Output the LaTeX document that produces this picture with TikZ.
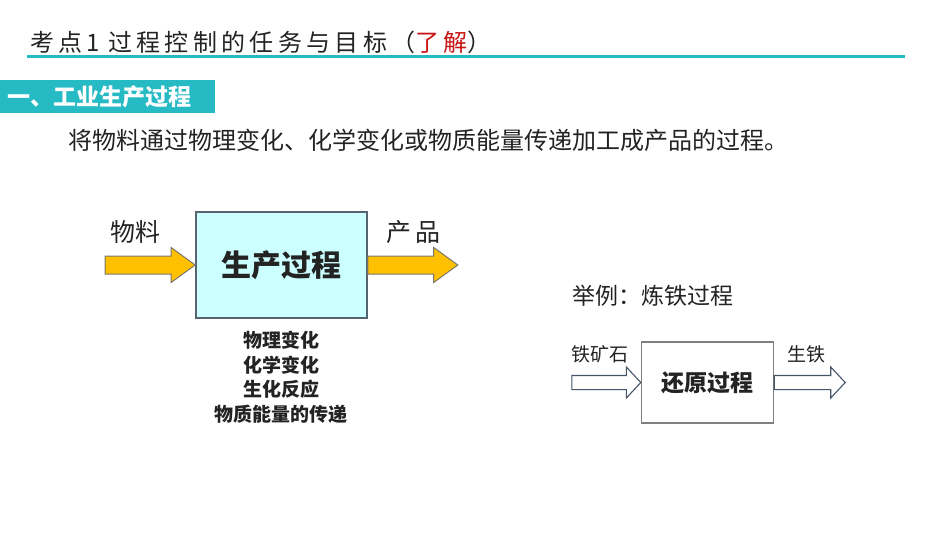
\documentclass[tikz,border=0pt]{standalone}
\usepackage{fontspec}
\setmainfont{Noto Sans CJK SC}
\newfontfamily\titlefont[LetterSpace=18]{Noto Sans CJK SC}
\usepackage{tikz}
\usetikzlibrary{positioning}
\usetikzlibrary{shapes.arrows}

\definecolor{lineteal}{RGB}{38,186,196}
\definecolor{inkgray}{RGB}{35,35,35}
\definecolor{markred}{RGB}{200,20,20}
\definecolor{boxcyan}{RGB}{204,255,255}
\definecolor{boxedge}{RGB}{85,100,110}
\definecolor{arrowyellow}{RGB}{255,192,0}
\definecolor{arrowedge}{RGB}{120,120,110}
\definecolor{hollowedge}{RGB}{70,85,105}
\newcommand{\pxfont}[1]{\fontsize{#1}{#1}\selectfont}

\tikzset{
  bigarrow/.style={single arrow, fill=arrowyellow, draw=arrowedge, line width=1pt,
    inner sep=0pt, outer sep=0pt, text height=17pt, text depth=0pt,
    single arrow head extend=8.5pt, single arrow tip angle=72, minimum height=90pt},
  thinarrow/.style={single arrow, fill=white, draw=hollowedge, line width=1.1pt,
    inner sep=0pt, outer sep=0pt, text height=13pt, text depth=0pt,
    single arrow head extend=8.5pt, single arrow tip angle=94},
}

\begin{document}
\begin{tikzpicture}[x=1pt,y=-1pt,text=inkgray]
            \useasboundingbox (0,0) rectangle (950,535);
            \fill[white] (0,0) rectangle (950,535);

            % Heading and rule
            \node[anchor=west,inner sep=0pt,font=\titlefont\pxfont{24}] (title) at (30,42)
                {考点1\hspace{8pt}过程控制的任务与目标（\textcolor{markred}{了解}）};
            \draw[lineteal,line width=3pt] (27,57) -- (905,57);
            \fill[lineteal] (0,80) rectangle (215,113);
            \node[anchor=west,inner sep=0pt,text=white,font=\pxfont{23}\bfseries] (sec) at (7,96.5)
                {一、工业生产过程};
            \node[anchor=west,inner sep=0pt,font=\pxfont{24}] (desc) at (68,140)
                {将物料通过物理变化、化学变化或物质能量传递加工成产品的过程。};

            % Place the production process
            \node[draw=boxedge,fill=boxcyan,line width=1.6pt,minimum width=171pt,
                minimum height=106pt,font=\pxfont{30}\bfseries] (prod) at (281.5,265) {生产过程};
            \node[bigarrow,anchor=tip] (matin) at (prod.west) {};
            \node[bigarrow,anchor=tail] (goodsout) at (prod.east) {};
            \node[font=\pxfont{25}] (matlab) at (135,232) {物料};
            \node[font=\pxfont{25}] (goodslab) at (413,232) {产\hspace{4pt}品};
            \node[font=\fontsize{19}{24.5}\selectfont\bfseries,align=center] (kinds) at (281,377)
                {物理变化\\化学变化\\生化反应\\物质能量的传递};

            % Place the example
            \node[anchor=west,font=\pxfont{23}] (ex) at (569,296) {举例：炼铁过程};
            \node[draw=gray,line width=1.4pt,minimum width=132pt,minimum height=81pt,
                font=\pxfont{23}\bfseries] (reduce) at (707.5,382.5) {还原过程};
            \node[thinarrow,anchor=tip,minimum height=69pt] (orein) at (reduce.west) {};
            \node[thinarrow,anchor=tail,minimum height=71pt] (ironout) at (reduce.east) {};
            \node[font=\pxfont{19}] (orelab) at (600,354) {铁矿石};
            \node[font=\pxfont{19}] (ironlab) at (806,354) {生铁};
        \end{tikzpicture}
\end{document}
